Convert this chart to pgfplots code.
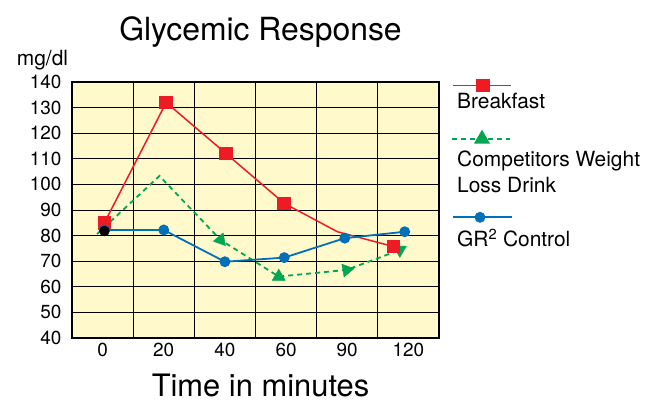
\documentclass[border=0pt]{standalone}
\usepackage{fontspec}
\setmainfont{TeX Gyre Heros}
\usepackage{pgfplots}
\pgfplotsset{compat=1.18}
\definecolor{bg}{RGB}{255,249,204}
\definecolor{cred}{RGB}{237,28,36}
\definecolor{cgreen}{RGB}{0,166,81}
\definecolor{cblue}{RGB}{0,112,185}
\begin{document}
\begin{tikzpicture}
\useasboundingbox (0bp,0bp) rectangle (658bp,-403bp);
\node[anchor=base, font=\fontsize{32}{32}\selectfont] at (260.5bp,-40bp) {Glycemic Response};
\node[anchor=base, font=\fontsize{31}{31}\selectfont] at (260.5bp,-396bp) {Time in minutes};
\node[anchor=base, font=\fontsize{21}{21}\selectfont] at (42.5bp,-65bp) {mg/dl};
\begin{axis}[
  at={(72bp,-338bp)}, anchor=south west,
  scale only axis, width=367bp, height=256bp,
  xmin=-0.5, xmax=5.5, ymin=40, ymax=140,
  xtick={0,1,2,3,4,5}, xticklabels={0,20,40,60,90,120},
  ytick={40,50,...,140},
  ymajorgrids,
  extra x ticks={0.5,1.5,2.5,3.5,4.5},
  extra x tick labels={},
  extra x tick style={xmajorgrids=true},
  major tick length=0pt,
  grid style={black, line width=1bp},
  axis line style={black, line width=1.2bp},
  axis background/.style={fill=bg},
  tick label style={font=\fontsize{19}{19}\selectfont},
  /pgf/number format/assume math mode=true,
  xticklabel style={yshift=-2bp},
  yticklabel style={xshift=-7bp},
  clip=false,
]
% green (competitor)
\addplot[cgreen, line width=1.8bp, dash pattern=on 5bp off 4bp, mark=none]
  coordinates {(-0.09,80.6) (0.93,103.3) (1.93,78.3) (2.88,64) (3.99,66.6) (4.86,74.4)};
\addplot[only marks, cgreen, mark=triangle*, mark size=7.5bp, mark options={rotate=-20}] coordinates {(1.93,78.3)};
\addplot[only marks, cgreen, mark=triangle*, mark size=7.5bp] coordinates {(2.88,64)};
\addplot[only marks, cgreen, mark=triangle*, mark size=7.5bp, mark options={rotate=160}] coordinates {(3.99,66.6)};
\addplot[only marks, cgreen, mark=triangle*, mark size=7.5bp, mark options={rotate=180}] coordinates {(4.86,74.4)};
% red (breakfast)
\addplot[cred, line width=1.5bp, mark=square*, mark size=6bp, mark indices={1,2,3,4,6}, mark options={solid}]
  coordinates {(0.03,85) (1.04,132) (2.02,112) (2.97,92.6) (3.84,81.5) (4.76,75.7)};
% blue (GR2)
\addplot[cblue, line width=1.8bp, mark=*, mark size=4.5bp]
  coordinates {(0.03,82.2) (1.0,82.2) (2.0,69.8) (2.97,71.4) (3.96,79) (4.94,81.5)};
\addplot[only marks, black, mark=*, mark size=5bp] coordinates {(0.03,81.8)};
\end{axis}
% legend axis
\begin{axis}[
  at={(440bp,-403bp)}, anchor=south west,
  scale only axis, width=218bp, height=403bp,
  xmin=440, xmax=658, ymin=-403, ymax=0,
  hide axis, clip=false,
]
\addplot[cred, line width=1.6bp, mark=square*, mark size=6bp, mark indices={2}]
  coordinates {(453,-85.7) (482.7,-85.7) (511,-85.7)};
\addplot[cgreen, line width=1.8bp, dash pattern=on 5bp off 4bp, mark=triangle*, mark size=7.5bp, mark indices={2}, mark options={solid}]
  coordinates {(452,-139) (482,-139) (510,-139)};
\addplot[cblue, line width=1.8bp, mark=*, mark size=4.5bp, mark indices={2}]
  coordinates {(453,-217.3) (480,-217.3) (512,-217.3)};
\node[anchor=base west, font=\fontsize{21}{21}\selectfont, inner sep=0pt] at (axis cs:457,-109) {Breakfast};
\node[anchor=base west, font=\fontsize{21}{21}\selectfont, inner sep=0pt] at (axis cs:457,-167) {Competitors Weight};
\node[anchor=base west, font=\fontsize{21}{21}\selectfont, inner sep=0pt] at (axis cs:457,-192.7) {Loss Drink};
\node[anchor=base west, font=\fontsize{21}{21}\selectfont, inner sep=0pt] at (axis cs:457,-246.7) {GR\textsuperscript{2} Control};
\end{axis}
\end{tikzpicture}
\end{document}
